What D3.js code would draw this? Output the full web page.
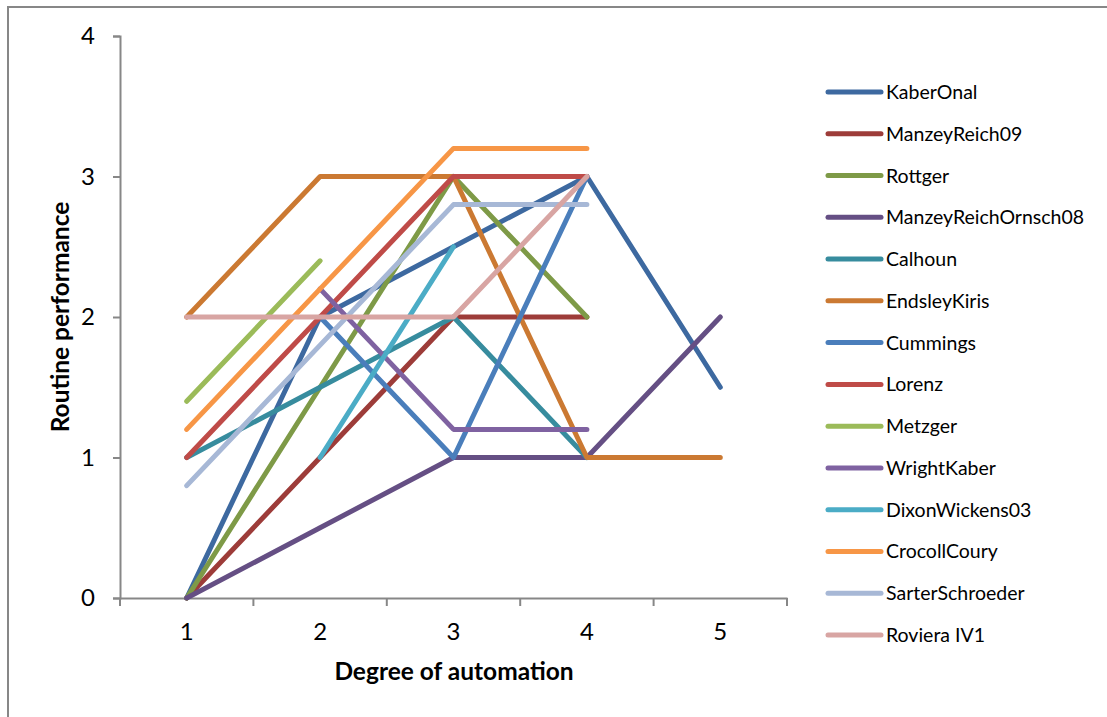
<!DOCTYPE html>
<html>
<head>
<meta charset="utf-8">
<script src="https://cdn.jsdelivr.net/npm/d3@7"></script>
<style>
  html, body { margin: 0; padding: 0; background: #fff; }
  svg { display: block; font-family: Lato, "Open Sans", sans-serif; }
</style>
</head>
<body>
<svg id="chart" width="1107" height="717"></svg>
<script>
// Degree-of-automation categories and y tick values
const categories = [1, 2, 3, 4, 5];
const yTicks = [0, 1, 2, 3, 4];

// Routine performance by study (null = no value at that degree)
const seriesNames = [
  "KaberOnal", "ManzeyReich09", "Rottger", "ManzeyReichOrnsch08", "Calhoun",
  "EndsleyKiris", "Cummings", "Lorenz", "Metzger", "WrightKaber",
  "DixonWickens03", "CrocollCoury", "SarterSchroeder", "Roviera IV1"
];
const kaberOnal           = [0, 2, 2.5, 3, 1.5];
const manzeyReich09       = [0, 1, 2, 2, null];
const rottger             = [0, 1.5, 3, 2, null];
const manzeyReichOrnsch08 = [0, 0.5, 1, 1, 2];
const calhoun             = [1, 1.5, 2, 1, null];
const endsleyKiris        = [2, 3, 3, 1, 1];
const cummings            = [null, 2, 1, 3, null];
const lorenz              = [1, 2, 3, 3, null];
const metzger             = [1.4, 2.4, null, null, null];
const wrightKaber         = [null, 2.2, 1.2, 1.2, null];
const dixonWickens03      = [null, 1, 2.5, null, null];
const crocollCoury        = [1.2, 2.2, 3.2, 3.2, null];
const sarterSchroeder     = [0.8, 1.8, 2.8, 2.8, null];
const rovieraIV1          = [2, 2, 2, 3, null];

const seriesValues = [
  kaberOnal, manzeyReich09, rottger, manzeyReichOrnsch08, calhoun,
  endsleyKiris, cummings, lorenz, metzger, wrightKaber,
  dixonWickens03, crocollCoury, sarterSchroeder, rovieraIV1
];
const seriesColors = [
  "#3D69A0", "#9D3C39", "#7E9A47", "#654F84", "#378C9E",
  "#CB7932", "#4A7EBB", "#BF4B48", "#9BBB59", "#7F62A1",
  "#4BACC6", "#F79646", "#A7B8D6", "#D8A5A3"
];

const svg = d3.select("#chart");
const axisColor = "#878787";

// Chart frame (top and left edges visible)
svg.append("rect")
  .attr("x", 8).attr("y", 7)
  .attr("width", 1200).attr("height", 800)
  .attr("fill", "none")
  .attr("stroke", axisColor)
  .attr("stroke-width", 2);

const plot = { left: 120, right: 787, top: 36, bottom: 598 };

const x = d3.scaleBand()
  .domain(categories)
  .range([plot.left, plot.right])
  .paddingInner(0).paddingOuter(0);
const xc = d => x(d) + x.bandwidth() / 2;

const y = d3.scaleLinear()
  .domain([0, 4])
  .range([plot.bottom, plot.top]);

// Y axis
const yAxis = svg.append("g")
  .attr("transform", `translate(${plot.left},0)`)
  .call(d3.axisLeft(y).tickValues(yTicks).tickSize(7).tickPadding(18).tickFormat(d3.format("d")));
yAxis.select(".domain").attr("stroke", axisColor).attr("stroke-width", 2);
yAxis.selectAll(".tick line").attr("stroke", axisColor).attr("stroke-width", 2);
yAxis.selectAll(".tick text")
  .attr("font-size", 24).attr("fill", "#000")
  .attr("font-family", "Lato, sans-serif");

// X axis: labels at category centres, tick marks at category edges
const xAxis = svg.append("g")
  .attr("transform", `translate(0,${plot.bottom})`)
  .call(d3.axisBottom(x).tickSize(0).tickPadding(25).tickSizeOuter(0));
xAxis.select(".domain").attr("stroke", axisColor).attr("stroke-width", 2);
xAxis.selectAll(".tick text")
  .attr("font-size", 24).attr("fill", "#000")
  .attr("font-family", "Lato, sans-serif");
const edges = categories.map(c => x(c)).concat([x(categories[categories.length - 1]) + x.bandwidth()]);
xAxis.selectAll(".edge-tick")
  .data(edges)
  .join("line")
  .attr("class", "edge-tick")
  .attr("x1", d => d).attr("x2", d => d)
  .attr("y1", 0).attr("y2", 8)
  .attr("stroke", axisColor).attr("stroke-width", 2);

// Axis titles
svg.append("text")
  .attr("x", 454)
  .attr("y", 680)
  .attr("text-anchor", "middle")
  .attr("font-size", 24.5).attr("font-weight", "bold")
  .text("Degree of automation");
svg.append("text")
  .attr("transform", "translate(69,317) rotate(-90)")
  .attr("text-anchor", "middle")
  .attr("font-size", 24.5).attr("font-weight", "bold")
  .text("Routine performance");

// Series lines
const line = d3.line()
  .defined(d => d.v !== null)
  .x(d => xc(d.c))
  .y(d => y(d.v));

const seriesG = svg.append("g");
seriesValues.forEach((vals, i) => {
  const pts = categories.map((c, j) => ({ c, v: vals[j] }));
  seriesG.append("path")
    .datum(pts)
    .attr("d", line)
    .attr("fill", "none")
    .attr("stroke", seriesColors[i])
    .attr("stroke-width", 5)
    .attr("stroke-linecap", "round")
    .attr("stroke-linejoin", "round");
});

// Legend
const legend = svg.append("g");
const legendY = d3.scalePoint().domain(seriesNames).range([92, 635]);
seriesNames.forEach((name, i) => {
  const ly = legendY(name);
  legend.append("line")
    .attr("x1", 828).attr("x2", 881)
    .attr("y1", ly).attr("y2", ly)
    .attr("stroke", seriesColors[i])
    .attr("stroke-width", 5)
    .attr("stroke-linecap", "round");
  legend.append("text")
    .attr("x", 886).attr("y", ly)
    .attr("dy", "0.36em")
    .attr("font-size", 19.5)
    .attr("fill", "#000")
    .text(name);
});
</script>
</body>
</html>
